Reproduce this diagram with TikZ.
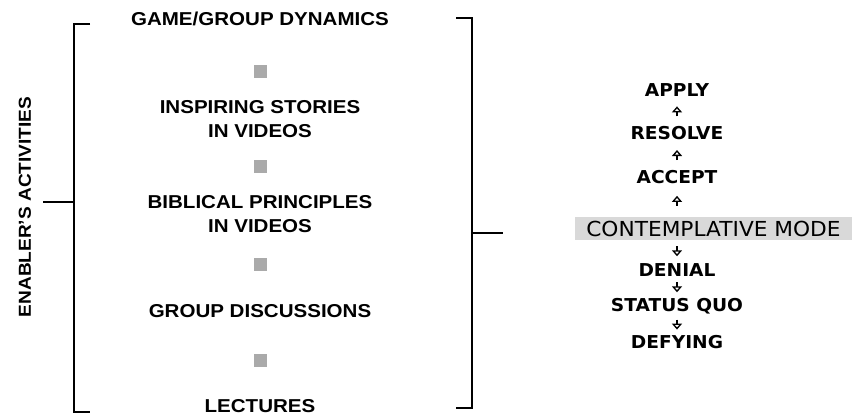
\documentclass[tikz,border=0pt]{standalone}
\usepackage{fontspec}
\setmainfont{Liberation Sans}
\newfontfamily\itemfont[FakeStretch=1.1]{Liberation Sans}
\newfontfamily\stagefont[FakeStretch=1.05]{DejaVu Sans}
\usetikzlibrary{arrows.meta,calc}

\tikzset{
  item/.style={inner sep=0.75pt, align=center, font=\itemfont\bfseries\fontsize{14}{17.5}\selectfont},
  dot/.style={inner sep=0pt, minimum size=9.75pt, fill={rgb, 255:red, 170; green, 170; blue, 170}},
  stage/.style={inner sep=0.75pt, font=\stagefont\bfseries\fontsize{13.3}{15}\selectfont},
  bracket/.style={line width=0.9pt},
  uparrow/.style={line width=1.5pt, -{Triangle[open, length=4.5pt, width=7.5pt, line width=1pt]}},
}

\begin{document}
\begin{tikzpicture}[x=0.75pt,y=0.75pt,yscale=-1,xscale=1]
\useasboundingbox (0,0) rectangle (858,415);

% Text Node
\node (enabler) [item, font=\itemfont\bfseries\fontsize{13}{15}\selectfont, rotate=90] at (25,207) {ENABLER’S ACTIVITIES};

%Left bracket
\draw [bracket]  (90,24) -- (74,24) -- (74,412) -- (90,412) ;
\draw [bracket]  (74,202) coordinate (lmid) -- (43,202) ;

% Activities
\node (game) [item] at (260,19) {GAME/GROUP DYNAMICS};
\node (sq1) [dot] at (260,71) {};
\node (stories) [item] at (260,119) {INSPIRING STORIES\\IN VIDEOS};
\node (sq2) [dot] at (260,166) {};
\node (biblical) [item] at (260,214) {BIBLICAL PRINCIPLES\\IN VIDEOS};
\node (sq3) [dot] at (260,264) {};
\node (discussions) [item] at (260,311) {GROUP DISCUSSIONS};
\node (sq4) [dot] at (260,360) {};
\node (lectures) [item] at (260,406) {LECTURES};

%Right bracket
\draw [bracket]  (456,18) -- (472,18) -- (472,408) -- (456,408) ;
\draw [bracket]  (472,233) coordinate (rmid) -- (503,233) ;

% Stages
\node (apply) [stage] at (677,90) {APPLY};
\node (resolve) [stage] at (677,133) {RESOLVE};
\node (accept) [stage] at (677,177) {ACCEPT};
\node (band) [inner sep=0pt, minimum width=207.75pt, minimum height=17.25pt, fill={rgb, 255:red, 217; green, 217; blue, 217},
  font=\stagefont\fontsize{15.5}{17}\selectfont] at (713.5,228.5) {CONTEMPLATIVE MODE};
\node (denial) [stage] at (677,270) {DENIAL};
\node (statusquo) [stage] at (677,306) {STATUS QUO};
\node (defying) [stage] at (677,342) {DEFYING};

%Arrows up
\draw [uparrow] ($(accept.south)!0.5!(accept.south |- band.north)$) +(0,5) -- +(0,-5) ;
\draw [uparrow] ($(resolve.south)!0.5!(accept.north)$) +(0,5) -- +(0,-5) ;
\draw [uparrow] ($(apply.south)!0.5!(resolve.north)$) +(0,5) -- +(0,-5) ;
%Arrows down
\draw [uparrow] ($(denial.north)!0.5!(denial.north |- band.south)$) +(0,-5) -- +(0,5) ;
\draw [uparrow] ($(denial.south)!0.5!(statusquo.north)$) +(0,-5) -- +(0,5) ;
\draw [uparrow] ($(statusquo.south)!0.5!(defying.north)$) +(0,-5) -- +(0,5) ;
\end{tikzpicture}
\end{document}
